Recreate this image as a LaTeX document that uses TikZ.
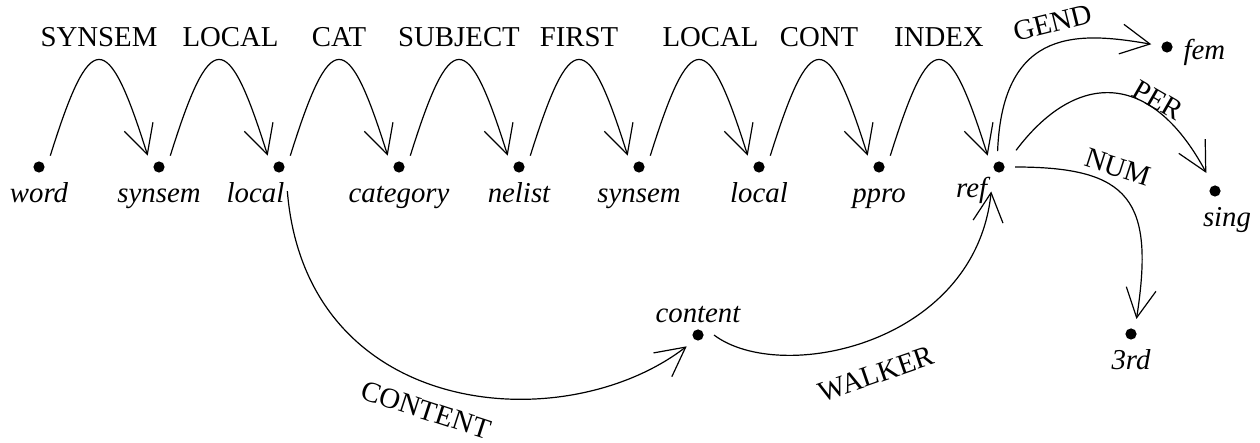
\documentclass[tikz,border=0pt]{standalone}
\usepackage{fontspec}
\setmainfont{Liberation Serif}
\usepackage{tikz}
\usetikzlibrary{arrows.meta,positioning}

\begin{document}
\begin{tikzpicture}[x=0.5pt, y=-0.5pt, line width=0.6pt,
        >={Straight Barb[length=14.5pt,width=15pt]},
        dot/.style={circle, fill, inner sep=0pt, minimum size=5.6pt, outer sep=5.2pt},
        feat/.style={font=\fontsize{14.4}{17}\selectfont, inner sep=0pt,
            text height=9.5pt, text depth=0pt},
        every label/.style={font=\fontsize{14.4}{17}\selectfont\itshape, inner sep=0pt,
            text height=9.5pt, text depth=3pt}]
    \useasboundingbox (0,0) rectangle (1260,443);
    % --- Sorts along the path (one dot every 120 units) ---
    \node[dot, label=below:word] (word) at (39,167) {};
    \node[dot, label=below:synsem] (synsemA) at (159,167) {};
    \node[dot, label={[xshift=-11.75pt]below:local}] (localA) at (279,167) {};
    \node[dot, label=below:category] (category) at (399,167) {};
    \node[dot, label=below:nelist] (nelist) at (519,167) {};
    \node[dot, label=below:synsem] (synsemB) at (639,167) {};
    \node[dot, label=below:local] (localB) at (759,167) {};
    \node[dot, label=below:ppro] (ppro) at (879,167) {};
    \node[dot, label=below left:ref] (ref) at (999,167) {};
    % --- Values of the index ---
    \node[dot, label={[yshift=-3pt]right:fem}] (fem) at (1167,47) {};
    \node[dot, label={[xshift=6pt]below:sing}] (sing) at (1215,191) {};
    \node[dot, label=below:3rd] (third) at (1131,334) {};
    \node[dot, label={[label distance=-5pt]above:content}] (content) at (698,335) {};
    % --- Feature arcs of the path ---
    \foreach \a/\b/\f/\s in {word/synsemA/SYNSEM/0pt, synsemA/localA/LOCAL/5.75pt,
            localA/category/CAT/0pt, category/nelist/SUBJECT/0pt, nelist/synsemB/FIRST/0pt,
            synsemB/localB/LOCAL/5.75pt, localB/ppro/CONT/0pt, ppro/ref/INDEX/0pt}
        \draw[->] (\a.45) .. controls +(40,-128) and +(-40,-128) .. (\b.135)
            node[feat, midway, above=6.5pt, xshift=\s] {\f};
    % --- Features of ref ---
    \draw[->] (ref.95) .. controls +(5,-126) and +(-70,-12) .. (fem.170);
    \draw[->, shorten <=4pt, shorten >=2pt] (ref.40) .. controls +(64,-85) and +(-58,-108) .. (sing.115);
    \draw[->] (ref.0) .. controls +(115,0) and +(18.5,-119) .. (third.70);
    % --- Structure sharing through content ---
    \draw[->, shorten <=5pt] (localA.-62) .. controls +(19.5,239) and +(-122,94) .. (content.-135);
    \draw[->, shorten >=5pt] (content.0) .. controls +(66,50) and +(-17,163.5) .. (ref.-115);
    % --- Rotated arc labels ---
    \node[feat, rotate=14] (gend) at (1053,23) {GEND};
    \node[feat, rotate=-30] (per) at (1158,100) {PER};
    \node[feat, rotate=-18] (num) at (1118,167) {NUM};
    \node[feat, rotate=-18] (cont) at (426,410) {CONTENT};
    \node[feat, rotate=19] (walker) at (876,374) {WALKER};
\end{tikzpicture}
\end{document}
